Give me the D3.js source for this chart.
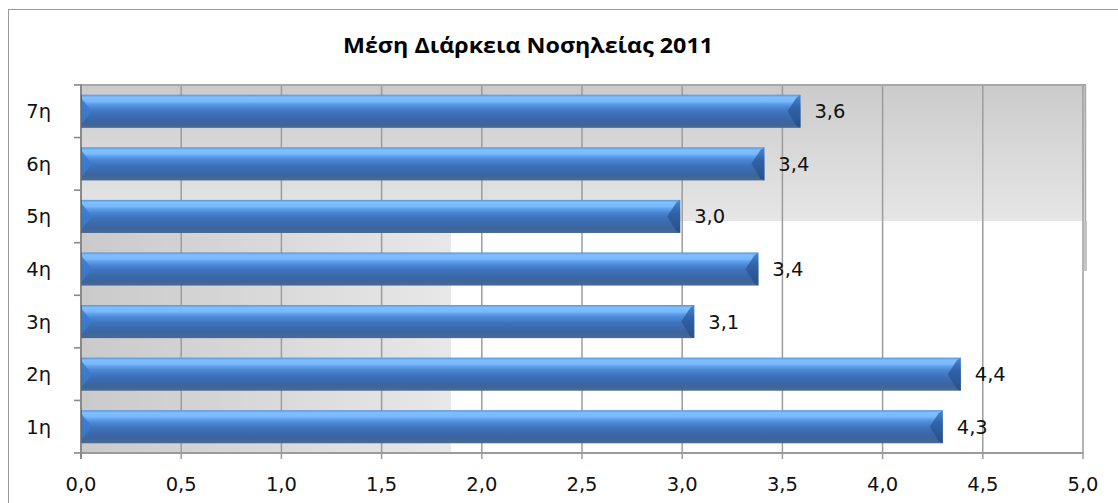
<!DOCTYPE html>
<html>
<head>
<meta charset="utf-8">
<script src="https://cdn.jsdelivr.net/npm/d3@7"></script>
<style>
  html, body { margin: 0; padding: 0; background: #fff; }
  svg { display: block; }
</style>
</head>
<body>
<svg id="chart" width="1118" height="503"></svg>
<script>
// ---- data ----
const title = "Μέση Διάρκεια Νοσηλείας 2011";
const categories = ["1η", "2η", "3η", "4η", "5η", "6η", "7η"];
const values = [4.30, 4.39, 3.06, 3.38, 2.99, 3.41, 3.59];
const xTicks = [0, 0.5, 1.0, 1.5, 2.0, 2.5, 3.0, 3.5, 4.0, 4.5, 5.0];

const fmt = v => d3.format(".1f")(v).replace(".", ",");

const svg = d3.select("#chart");
const pL = 81, pR = 1083, pT = 85, pB = 453;

const x = d3.scaleLinear().domain([0, 5]).range([pL, pR]);
const y = d3.scaleBand().domain(categories.slice().reverse())
  .range([pT, pB]).paddingInner(0.37).paddingOuter(0.185);

const defs = svg.append("defs");
const gUp = defs.append("linearGradient").attr("id", "gUp").attr("x1", 0).attr("y1", 0).attr("x2", 0).attr("y2", 1);
gUp.append("stop").attr("offset", "0%").attr("stop-color", "#cbcbcb");
gUp.append("stop").attr("offset", "100%").attr("stop-color", "#e6e6e6");
const gLeft = defs.append("linearGradient").attr("id", "gLeft").attr("x1", 0).attr("y1", 0).attr("x2", 1).attr("y2", 0);
gLeft.append("stop").attr("offset", "0%").attr("stop-color", "#cacaca");
gLeft.append("stop").attr("offset", "100%").attr("stop-color", "#e8e8e8");

const gBar = defs.append("linearGradient").attr("id", "gBar").attr("x1", 0).attr("y1", 0).attr("x2", 0).attr("y2", 1);
[["0%", "#5b92dc"], ["4%", "#6aaaf2"], ["8%", "#7fc0ff"], ["20%", "#78b8fc"], ["28%", "#5d9de9"],
 ["38%", "#4a88d4"], ["55%", "#3d72bb"], ["78%", "#3a66a4"], ["88%", "#3f6597"], ["100%", "#4a6a96"]]
  .forEach(s => gBar.append("stop").attr("offset", s[0]).attr("stop-color", s[1]));
const gCap = defs.append("linearGradient").attr("id", "gCap").attr("x1", 0).attr("y1", 0).attr("x2", 0).attr("y2", 1);
[["0%", "#4a86d2"], ["40%", "#2f62a8"], ["100%", "#284f86"]]
  .forEach(s => gCap.append("stop").attr("offset", s[0]).attr("stop-color", s[1]));

// outer frame
svg.append("rect").attr("x", 8.5).attr("y", 9.5).attr("width", 1200).attr("height", 600)
  .attr("fill", "#fff").attr("stroke", "#9a9a9a").attr("stroke-width", 1);

// walls
const splitY = 221, splitX = 451;
svg.append("rect").attr("x", pL).attr("y", pT).attr("width", 1086 - pL).attr("height", splitY - pT)
  .attr("fill", "url(#gUp)");
svg.append("rect").attr("x", pL).attr("y", splitY).attr("width", splitX - pL).attr("height", pB - splitY)
  .attr("fill", "url(#gLeft)");
svg.append("rect").attr("x", 1084).attr("y", splitY).attr("width", 3).attr("height", 50).attr("fill", "#c4c4c4");

// gridlines + ticks
svg.append("g").selectAll("line").data(xTicks).join("line")
  .attr("x1", d => x(d)).attr("x2", d => x(d))
  .attr("y1", pT).attr("y2", pB + 6)
  .attr("stroke", "#9c9c9c").attr("stroke-width", 1.5);
svg.append("line").attr("x1", pL).attr("x2", 1086).attr("y1", pT).attr("y2", pT)
  .attr("stroke", "#a8a8a8").attr("stroke-width", 2);
svg.append("line").attr("x1", 1085.5).attr("x2", 1085.5).attr("y1", pT).attr("y2", splitY)
  .attr("stroke", "#a8a8a8").attr("stroke-width", 1.5);
svg.append("line").attr("x1", pL).attr("x2", pR).attr("y1", pB).attr("y2", pB)
  .attr("stroke", "#9a9a9a").attr("stroke-width", 2);
svg.append("line").attr("x1", pL).attr("x2", pL).attr("y1", pT - 1).attr("y2", pB + 6)
  .attr("stroke", "#8a8a8a").attr("stroke-width", 2);
const bounds = d3.range(categories.length + 1).map(i => pT + i * (pB - pT) / categories.length);
svg.append("g").selectAll("line").data(bounds).join("line")
  .attr("x1", pL - 7).attr("x2", pL).attr("y1", d => d).attr("y2", d => d)
  .attr("stroke", "#8a8a8a").attr("stroke-width", 1.6);

// bars
const bars = svg.append("g").selectAll("g").data(categories).join("g");
bars.append("rect")
  .attr("x", pL).attr("y", d => y(d))
  .attr("width", (d, i) => x(values[i]) - pL)
  .attr("height", y.bandwidth())
  .attr("fill", "url(#gBar)");
bars.append("path").attr("d", (d) => {
  const t = y(d), b = t + y.bandwidth(), m = (t + b) / 2;
  return `M${pL},${t + 3}L${pL + 11},${m}L${pL},${b - 3}Z`;
}).attr("fill", "#3c7acb").attr("opacity", 0.85);
bars.append("line").attr("x1", pL + 0.5).attr("x2", pL + 0.5)
  .attr("y1", d => y(d)).attr("y2", d => y(d) + y.bandwidth())
  .attr("stroke", "#3a6eb5").attr("stroke-width", 1);
bars.append("path").attr("d", (d, i) => {
  const t = y(d), b = t + y.bandwidth(), m = (t + b) / 2, xe = x(values[i]);
  return `M${xe},${t}L${xe - 4},${t + 3}L${xe - 13},${m}L${xe - 4},${b - 2}L${xe},${b}Z`;
}).attr("fill", "url(#gCap)");

// data labels
svg.append("g").selectAll("text").data(categories).join("text")
  .attr("x", (d, i) => x(values[i]) + 14)
  .attr("y", d => y(d) + y.bandwidth() / 2 + 7)
  .attr("font-family", "DejaVu Sans, sans-serif").attr("font-size", 19.5)
  .attr("fill", "#111")
  .text((d, i) => fmt(values[i]));

// category labels
svg.append("g").selectAll("text").data(categories).join("text")
  .attr("x", 51).attr("y", d => y(d) + y.bandwidth() / 2 + 7)
  .attr("text-anchor", "end")
  .attr("font-family", "DejaVu Sans, sans-serif").attr("font-size", 19.5)
  .attr("fill", "#111")
  .text(d => d);

// x tick labels
svg.append("g").selectAll("text").data(xTicks).join("text")
  .attr("x", d => x(d)).attr("y", 491)
  .attr("text-anchor", "middle")
  .attr("font-family", "DejaVu Sans, sans-serif").attr("font-size", 19.5)
  .attr("fill", "#111")
  .text(d => fmt(d));

// title
svg.append("text").attr("x", 528).attr("y", 53)
  .attr("text-anchor", "middle")
  .attr("font-family", "Open Sans, sans-serif").attr("font-weight", "bold")
  .attr("font-size", 22).attr("fill", "#000")
  .attr("textLength", 370).attr("lengthAdjust", "spacingAndGlyphs")
  .text(title);
</script>
</body>
</html>
